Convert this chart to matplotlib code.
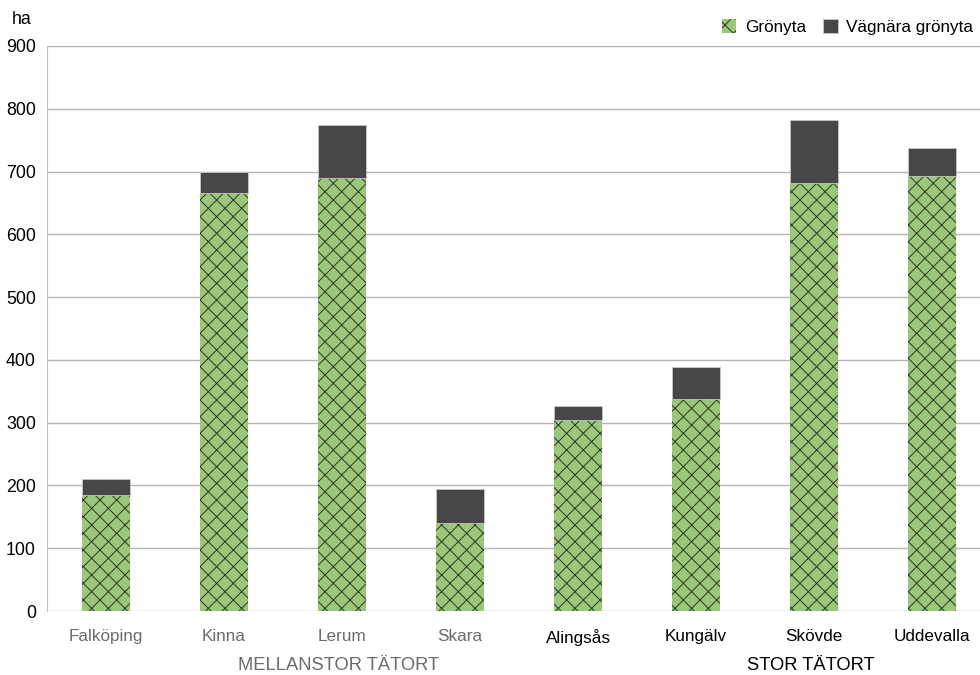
import matplotlib.pyplot as plt
import numpy as np

plt.rcParams["font.family"] = ["Liberation Sans", "DejaVu Sans"]
plt.rcParams["hatch.linewidth"] = 0.7

towns = ["Falköping", "Kinna", "Lerum", "Skara", "Alingsås", "Kungälv", "Skövde", "Uddevalla"]
gronyta = [185, 666, 690, 140, 304, 338, 682, 693]
vagnara = [25, 33, 84, 54, 22, 51, 100, 44]
groups = ["MELLANSTOR TÄTORT", "STOR TÄTORT"]
group_size = 4
yticks = [0, 100, 200, 300, 400, 500, 600, 700, 800, 900]

GREEN = "#9cc67a"
DARK = "#474747"
GREY_TXT = "#6b6b6b"

fig = plt.figure(figsize=(9.8, 6.75), dpi=100)
ax = fig.add_axes([47 / 980, 1 - 611 / 675, 1 - 47 / 980, 565 / 675])

x = np.arange(len(towns))
w = 0.41
# leafy texture of the original approximated by a fine dark cross hatch
ax.bar(x, gronyta, w, color=GREEN, edgecolor="#2a3820", hatch="xx", linewidth=0,
       label="Grönyta", zorder=3)
ax.bar(x, vagnara, w, bottom=gronyta, color=DARK, edgecolor="#c8c8c8", linewidth=0.6,
       label="Vägnära grönyta", zorder=3)

ax.set_ylim(0, 900)
ax.set_xlim(-0.5, (980 - 47) / 118 - 0.5)
ax.set_yticks(yticks)
ax.yaxis.grid(True, color="#b4b4b4", linewidth=1, zorder=0)
ax.set_axisbelow(True)
for s in ["top", "right", "bottom"]:
    ax.spines[s].set_visible(False)
ax.spines["left"].set_color("#c0c0c0")
ax.tick_params(axis="y", length=0, labelsize=12.8, pad=8)
ax.tick_params(axis="x", length=0, labelsize=12.3, pad=13)
ax.set_xticks(x)
ax.set_xticklabels(towns)
for i, lbl in enumerate(ax.get_xticklabels()):
    lbl.set_color(GREY_TXT if i < group_size else "black")

# group labels sit a little right of the group centre in the original
for gi, g in enumerate(groups):
    cx = gi * group_size + (group_size - 1) / 2 + 0.47
    ax.text(cx, -0.097, g, transform=ax.get_xaxis_transform(), ha="center", va="center",
            fontsize=13.2, color=GREY_TXT if gi == 0 else "black")

fig.text(22 / 980, 1 - 19 / 675, "ha", ha="center", va="center", fontsize=12.8)

leg = ax.legend(loc="center right", bbox_to_anchor=(1.0, 1 + 19 / 565), ncol=2, frameon=False,
                fontsize=12.3, handlelength=0.85, handleheight=0.85, handletextpad=0.5,
                columnspacing=1.0, borderaxespad=0)

fig.savefig("out.png", dpi=100)
